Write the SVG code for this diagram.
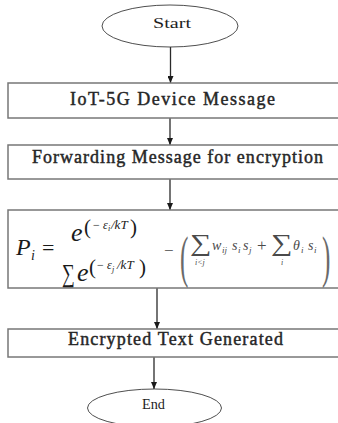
<svg xmlns="http://www.w3.org/2000/svg" width="338" height="423" viewBox="0 0 338 423">
  <style>
    .bg { fill: #ffffff; }
    .term { fill: #ffffff; stroke: #3a3a3a; stroke-width: 0.9; }
    .box { fill: #ffffff; stroke: #777777; stroke-width: 1.5; }
    .lbl { font-family: "Liberation Serif", "Times New Roman", serif; font-size: 18px; fill: #262626; stroke: #262626; stroke-width: 0.45; }
    .term-lbl { font-family: "Liberation Serif", "Times New Roman", serif; font-size: 15px; fill: #1e1e1e; }
    .wire { stroke: #2a2a2a; stroke-width: 1.3; fill: none; marker-end: url(#head); }
    .m { font-family: "Liberation Serif", "Times New Roman", serif; fill: #1a1a1a; }
    .mi { font-style: italic; }
    .m2 { font-family: "Liberation Serif", "Times New Roman", serif; fill: #4a4a4a; }
    .br { font-family: "Liberation Serif", "Times New Roman", serif; fill: #6a6a6a; }
  </style>
  <defs>
    <marker id="head" markerWidth="7" markerHeight="6" refX="7" refY="3" orient="auto" markerUnits="userSpaceOnUse">
      <path d="M0,0 L7,3 L0,6 z" fill="#1a1a1a"/>
    </marker>
  </defs>

  <rect class="bg" x="0" y="0" width="338" height="423"/>

  <!-- connectors -->
  <g id="connectors">
    <line class="wire" x1="170.5" y1="47" x2="170.5" y2="83"/>
    <line class="wire" x1="170" y1="118" x2="170" y2="145"/>
    <line class="wire" x1="170" y1="179" x2="170" y2="210"/>
    <line class="wire" x1="157" y1="288" x2="157" y2="329"/>
    <line class="wire" x1="154" y1="357" x2="154" y2="389"/>
  </g>

  <!-- start terminal -->
  <g id="start">
    <ellipse class="term" cx="170" cy="26" rx="68" ry="21"/>
    <text class="term-lbl" x="153" y="28" textLength="38" lengthAdjust="spacingAndGlyphs">Start</text>
  </g>

  <!-- step 1 -->
  <g id="device-message">
    <rect class="box" x="8" y="83" width="340" height="35"/>
    <text class="lbl" x="70" y="105" textLength="205" lengthAdjust="spacing">IoT-5G Device Message</text>
  </g>

  <!-- step 2 -->
  <g id="forwarding">
    <rect class="box" x="8" y="145" width="340" height="34"/>
    <text class="lbl" x="32" y="163" textLength="291" lengthAdjust="spacing">Forwarding Message for encryption</text>
  </g>

  <!-- step 3: probability / energy expression -->
  <g id="formula">
    <rect class="box" x="8" y="210" width="340" height="78"/>
    <!-- P_i = -->
    <text class="m mi" x="16" y="255" font-size="24">P</text>
    <text class="m mi" x="31" y="260" font-size="14">i</text>
    <text class="m" x="42" y="255" font-size="22">=</text>
    <!-- numerator -->
    <text class="m mi" x="71" y="241" font-size="26">e</text>
    <text class="m" x="84" y="234" font-size="21">(</text>
    <text class="m" x="93" y="229" font-size="12">−</text>
    <text class="m mi" x="103" y="229" font-size="12">ε</text>
    <text class="m mi" x="108" y="231" font-size="8">i</text>
    <text class="m mi" x="111" y="229" font-size="13">/kT</text>
    <text class="m" x="130" y="234" font-size="21">)</text>
    <!-- denominator -->
    <text class="m" font-size="20" transform="translate(62 282) scale(0.9 1.3)">∑</text>
    <text class="m mi" x="77" y="281" font-size="26">e</text>
    <text class="m" x="89" y="274" font-size="21">(</text>
    <text class="m" x="97" y="269" font-size="12">−</text>
    <text class="m mi" x="107" y="269" font-size="12">ε</text>
    <text class="m mi" x="112" y="272" font-size="8">j</text>
    <text class="m mi" x="117" y="269" font-size="13">/kT</text>
    <text class="m" x="139" y="274" font-size="21">)</text>
    <!-- minus and bracketed sum -->
    <text class="m2" x="164" y="256" font-size="17">−</text>
    <text class="br" font-size="56" transform="translate(180 276) scale(0.45 1)">(</text>
    <text class="m2" font-size="24" transform="translate(190 251) scale(1.25 1)">∑</text>
    <text class="m2 mi" x="195" y="265" font-size="8">i&lt;j</text>
    <text class="m2 mi" x="212" y="250" font-size="14">w</text>
    <text class="m2 mi" x="222" y="253" font-size="9">ij</text>
    <text class="m2 mi" x="232" y="250" font-size="14">s</text>
    <text class="m2 mi" x="238" y="253" font-size="9">i</text>
    <text class="m2 mi" x="243" y="250" font-size="14">s</text>
    <text class="m2 mi" x="249" y="253" font-size="9">j</text>
    <text class="m2" x="257" y="251" font-size="17">+</text>
    <text class="m2" font-size="24" transform="translate(271 251) scale(1.25 1)">∑</text>
    <text class="m2 mi" x="281" y="265" font-size="8">i</text>
    <text class="m2 mi" x="293" y="250" font-size="14">θ</text>
    <text class="m2 mi" x="301" y="253" font-size="9">i</text>
    <text class="m2 mi" x="308" y="250" font-size="14">s</text>
    <text class="m2 mi" x="314" y="253" font-size="9">i</text>
    <text class="br" font-size="56" transform="translate(322 276) scale(0.45 1)">)</text>
  </g>

  <!-- step 4 -->
  <g id="encrypted">
    <rect class="box" x="8" y="329" width="340" height="28"/>
    <text class="lbl" x="68" y="345" textLength="215" lengthAdjust="spacing">Encrypted Text Generated</text>
  </g>

  <!-- end terminal -->
  <g id="end">
    <ellipse class="term" cx="154.5" cy="408" rx="67" ry="19"/>
    <text class="term-lbl" x="142" y="409" textLength="23" lengthAdjust="spacingAndGlyphs">End</text>
  </g>
</svg>
